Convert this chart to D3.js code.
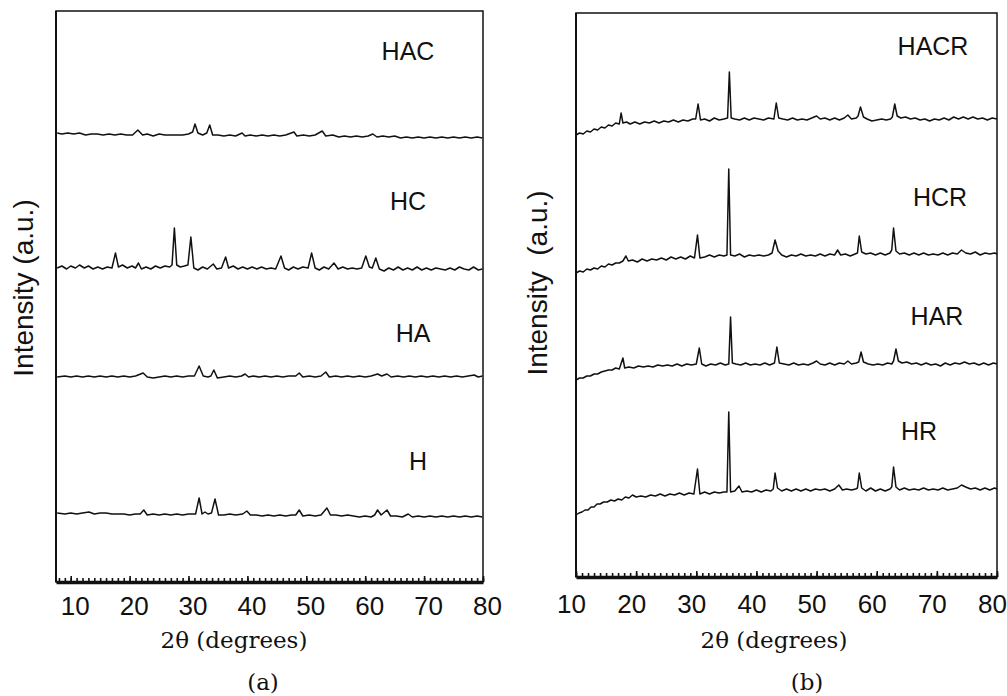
<!DOCTYPE html>
<html>
<head>
<meta charset="utf-8">
<script src="https://cdn.jsdelivr.net/npm/d3@7"></script>
<style>
  body { margin: 0; background: #fff; }
</style>
</head>
<body>
<svg id="chart" width="1007" height="696"></svg>
<script>
// 2θ tick labels, shared by both panels
const tickLabels = [10, 20, 30, 40, 50, 60, 70, 80];

// ---- panel (a): as prepared ----
const namesA = ["HAC", "HC", "HA", "H"];
const offsetsA = [445, 314, 205, 67];   // baseline level of each pattern (a.u.)

// [2θ, intensity above baseline]
const hac = [[7.7,4],[8.5,3],[9.5,4],[10.5,3],[11.5,4],[12.5,2],[13.5,3],[14.5,3],[15.5,2],[16.5,3],[17.5,2],[18.5,3],[19.5,2],[20.5,2],[21.4,7],[22.2,2],[23,3],[24,1],[25,3],[26,2],[27,2],[28,2],[29,2],[30,3],[30.7,5],[31.1,13],[31.6,4],[32.4,2],[33.1,4],[33.6,12],[34.1,2],[35,2],[36,1],[37,2],[38,1],[39.1,4],[39.6,1],[40.5,2],[41.5,1],[42.5,2],[43.5,1],[44.5,2],[45.5,1],[46.5,2],[47.9,5],[48.4,1],[49.5,2],[50.5,1],[51.5,2],[52.7,6],[53.3,1],[54.5,2],[55.5,0],[56.5,1],[57.5,0],[58.5,1],[59.5,0],[60.5,1],[61.3,3],[62,0],[63,1],[64,0],[65,1],[66,-1],[67,0],[68,-1],[69,0],[70,-1],[71,0],[72,-1],[73,0],[74,-1],[75,0],[76,-1],[77,0],[78,-1],[79,0],[79.9,-1]];

const hc = [[7.7,0],[8.5,2],[9.3,-1],[10,2],[10.8,0],[11.5,3],[12.3,0],[13,2],[13.8,-1],[14.6,1],[15.4,-1],[16.2,1],[17,0],[17.6,15],[18.1,1],[18.8,3],[19.6,0],[20.4,2],[21,0],[21.5,5],[22,-1],[22.8,1],[23.6,-1],[24.4,2],[25.2,0],[26,2],[26.8,1],[27.2,3],[27.6,40],[28,3],[28.6,1],[29.3,2],[29.9,3],[30.4,31],[30.9,0],[31.6,-2],[32.4,1],[33.2,-1],[34.2,4],[34.8,-1],[35.6,0],[36.3,11],[36.8,0],[37.6,2],[38.4,-1],[39.2,1],[40,-1],[40.8,1],[41.6,-1],[42.4,1],[43.2,-1],[44,0],[44.8,-1],[45.7,12],[46.3,0],[47,-2],[47.8,1],[48.6,-1],[49.4,1],[50.3,0],[50.9,15],[51.5,0],[52.2,-2],[53,1],[53.8,-1],[54.7,5],[55.4,-1],[56.2,1],[57,-1],[57.8,0],[58.6,-1],[59.4,0],[60.1,12],[60.7,1],[61.2,0],[61.8,10],[62.4,-1],[63.2,-3],[64,0],[64.8,-2],[65.6,1],[66.4,-2],[67.2,0],[68,-2],[68.8,1],[69.6,-2],[70.4,0],[71.2,-2],[72,0],[72.8,-1],[73.6,-2],[74.4,0],[75.2,-2],[76,1],[76.8,-1],[77.6,-2],[78.4,1],[79.2,-2],[79.9,-1]];

const ha = [[7.7,0],[9,1],[10,0],[11,1],[12,0],[13,1],[14,0],[15,1],[16,0],[17,1],[18,0],[19,1],[20,0],[21,1],[22.3,4],[23,0],[24,-1],[25,0],[26,1],[27,0],[28,1],[29,0],[30,1],[31,1],[31.8,11],[32.5,1],[33.3,0],[33.8,1],[34.3,7],[34.9,-1],[36,0],[37,1],[38,0],[39,1],[39.6,3],[40.2,0],[41,1],[42,0],[43,1],[44,0],[45,1],[46,0],[47,1],[48.2,1],[48.8,4],[49.4,0],[50.5,1],[51.5,0],[52.5,1],[53.3,5],[53.9,0],[55,1],[56,0],[57,1],[58,0],[59,1],[60,0],[61,1],[62.1,3],[62.8,1],[63.7,3],[64.4,0],[65.5,1],[66.5,0],[67.5,1],[68.5,0],[69.5,1],[70.5,0],[71.5,1],[72.5,0],[73.5,1],[74.5,0],[75.5,1],[76.5,0],[77.5,1],[78.5,2],[79.2,0],[79.9,1]];

const h = [[7.7,2],[9,1],[10,2],[11,1],[12,2],[13.1,3],[14,1],[15,2],[16,2],[17,1],[18,1],[19,1],[20,0],[21,1],[21.8,1],[22.4,5],[23,0],[24,1],[25,0],[26,1],[27,0],[28,1],[29,0],[30,1],[31.2,1],[31.8,17],[32.3,1],[32.8,3],[33.3,1],[33.9,2],[34.5,16],[35.1,0],[36,0],[37,1],[38,0],[39.2,1],[39.9,4],[40.5,0],[41.5,0],[42.5,-1],[43.5,0],[44.5,-1],[45.5,0],[46.5,-1],[47.5,0],[48.2,0],[48.8,5],[49.4,-1],[50.5,0],[51.5,-1],[52.5,0],[53.5,7],[54.1,0],[55,0],[56,-1],[57,0],[58,-1],[59,-2],[60,-1],[61,-2],[61.6,0],[62.1,5],[62.7,0],[63.7,5],[64.3,-1],[65.3,-1],[66.3,-2],[67.3,1],[68,-2],[69,-1],[70,-2],[71,-1],[72,-2],[73,-1],[74,-2],[75,-1],[76,-2],[77,-1],[78,-2],[79,-1],[79.9,-2]];

// ---- panel (b): after reduction ----
const namesB = ["HACR", "HCR", "HAR", "HR"];
const offsetsB = [458, 322, 213, 88];

const hacr = [[10,-16],[10.6,-14],[11.2,-15],[11.8,-12],[12.4,-13],[13,-10],[13.6,-11],[14.2,-8],[14.8,-9],[15.4,-6],[16,-7],[16.6,-4],[17.2,-5],[17.5,6],[17.8,-4],[18.4,-3],[19,-5],[19.8,-3],[20.6,-5],[21.4,-3],[22.2,-4],[23,-2],[23.8,-4],[24.6,-2],[25.4,-3],[26.2,-1],[27,-3],[27.8,-1],[28.6,-2],[29.4,0],[29.9,0],[30.3,15],[30.7,-1],[31.4,0],[32.2,-2],[33,1],[33.8,-1],[34.6,0],[35.2,1],[35.5,47],[35.8,1],[36.4,0],[37.2,-1],[38,1],[38.8,-1],[39.6,1],[40.4,0],[41.2,-1],[42,1],[42.9,0],[43.3,16],[43.7,1],[44.4,0],[45.2,-1],[46,1],[46.8,-1],[47.6,0],[48.4,-1],[49.2,1],[50,3],[50.6,0],[51.4,1],[52.2,-1],[53,1],[53.8,-1],[54.6,1],[55.2,4],[55.8,0],[56.6,1],[56.9,3],[57.3,12],[57.8,2],[58.4,0],[59.2,-2],[60,-1],[60.8,0],[61.6,-1],[62.3,0],[62.6,2],[63,15],[63.4,3],[64,1],[64.8,2],[65.6,0],[66.4,1],[67.2,-1],[68,0],[68.8,-2],[69.6,0],[70.4,-1],[71.2,1],[72,-1],[72.8,2],[73.6,0],[74.4,2],[75.2,0],[76,2],[76.8,0],[77.6,1],[78.4,-1],[79.2,1],[80,0]];

const hcr = [[10,-18],[10.6,-16],[11.2,-17],[11.8,-14],[12.4,-15],[13,-13],[13.6,-14],[14.2,-11],[14.8,-12],[15.4,-9],[16,-10],[16.6,-8],[17.2,-8],[17.8,-6],[18.3,-1],[18.7,-6],[19.4,-5],[20.2,-7],[21,-4],[21.8,-6],[22.6,-4],[23.4,-5],[24.2,-3],[25,-5],[25.8,-2],[26.6,-4],[27.4,-2],[28.2,-4],[29,-1],[29.7,-3],[30.2,20],[30.6,-3],[31.4,-2],[32.2,0],[33,-2],[33.8,0],[34.6,-1],[35.1,0],[35.4,86],[35.7,0],[36.4,-1],[37.2,1],[38,-2],[38.8,0],[39.6,-1],[40.4,0],[41.2,-1],[42,0],[42.6,2],[43.1,15],[43.6,4],[44.2,0],[45,-2],[45.8,0],[46.6,-1],[47.4,1],[48.2,-1],[49,0],[49.8,-1],[50.6,1],[51.4,-1],[52.2,1],[53,0],[53.5,5],[54,0],[54.8,1],[55.6,-1],[56.4,1],[56.8,2],[57.1,19],[57.5,3],[58.2,1],[59,2],[59.8,0],[60.6,2],[61.4,0],[62.2,2],[62.5,5],[62.8,27],[63.2,4],[63.8,1],[64.6,2],[65.4,0],[66.2,2],[67,0],[67.8,2],[68.6,0],[69.4,1],[70.2,0],[71,2],[71.8,0],[72.6,2],[73.4,1],[74.1,5],[74.8,2],[75.6,1],[76.4,3],[77.2,0],[78,2],[78.8,1],[79.6,2],[80,1]];

const har = [[10,-16],[10.6,-14],[11.2,-14],[11.8,-12],[12.4,-12],[13,-10],[13.6,-10],[14.2,-8],[14.8,-7],[15.4,-6],[16,-6],[16.6,-4],[17.2,-5],[17.8,6],[18.1,-4],[18.8,-3],[19.6,-4],[20.4,-2],[21.2,-3],[22,-2],[22.8,-3],[23.6,-1],[24.4,-2],[25.2,-1],[26,-2],[26.8,0],[27.6,-2],[28.4,0],[29.2,-1],[30,0],[30.5,16],[30.9,0],[31.6,-2],[32.4,0],[33.2,-1],[34,1],[34.8,-1],[35.4,0],[35.7,47],[36,1],[36.6,0],[37.4,-1],[38.2,1],[39,-1],[39.8,0],[40.6,-1],[41.4,1],[42.2,-1],[43,1],[43.4,17],[43.8,1],[44.6,0],[45.4,-1],[46.2,1],[47,-1],[47.8,0],[48.6,-1],[49.4,1],[50,3],[50.6,0],[51.4,-1],[52.2,1],[53,-1],[53.8,1],[54.6,0],[55.2,3],[55.8,0],[56.6,1],[57,2],[57.4,12],[57.8,2],[58.6,0],[59.4,-1],[60.2,0],[61,-1],[61.8,1],[62.5,0],[62.8,3],[63.2,15],[63.6,3],[64.2,1],[65,2],[65.8,0],[66.6,1],[67.4,-1],[68.2,1],[69,-1],[69.8,0],[70.6,-2],[71.4,1],[72.2,-1],[73,1],[73.8,0],[74.6,2],[75.4,0],[76.2,1],[77,-1],[77.8,1],[78.6,-1],[79.4,1],[80,0]];

const hr = [[10,-26],[10.5,-24],[11,-23],[11.5,-21],[12,-21],[12.5,-18],[13,-18],[13.5,-15],[14,-15],[14.6,-13],[15.2,-13],[15.8,-11],[16.4,-12],[17,-10],[17.6,-11],[18.2,-8],[18.8,-9],[19.4,-6],[20,-8],[20.8,-7],[21.6,-8],[22.4,-6],[23.2,-7],[24,-5],[24.8,-7],[25.6,-5],[26.4,-6],[27.2,-4],[28,-6],[28.8,-4],[29.6,-5],[30.2,20],[30.6,-5],[31.4,-3],[32.2,-5],[33,-3],[33.8,-4],[34.6,-3],[35.1,-3],[35.4,77],[35.7,-3],[36.4,-2],[37.1,3],[37.6,-3],[38.4,-2],[39.2,-3],[40,-1],[40.8,-3],[41.6,-1],[42.4,-2],[42.8,0],[43.1,16],[43.5,1],[44.2,-2],[45,0],[45.8,-2],[46.6,0],[47.4,-2],[48.2,0],[49,-2],[49.8,0],[50.6,-1],[51.4,0],[52.2,-2],[53,0],[53.7,4],[54.3,-1],[55,0],[55.8,-1],[56.5,0],[56.8,1],[57.1,16],[57.5,1],[58.2,-2],[59,1],[59.8,-2],[60.6,0],[61.4,-2],[62.2,0],[62.5,2],[62.8,22],[63.2,2],[63.8,-1],[64.6,1],[65.4,-1],[66.2,0],[67,-1],[67.8,1],[68.6,-1],[69.4,0],[70.2,-1],[71,1],[71.8,-1],[72.6,0],[73.4,1],[74.1,4],[74.8,2],[75.6,0],[76.4,1],[77.2,-1],[78,1],[78.8,-1],[79.6,1],[80,0]];

// ---- layout ----
const svg = d3.select("#chart");
const sans = "'Liberation Sans', Arial, sans-serif";
const serif = "'DejaVu Serif', serif";

const panels = [
  { left: 56, right: 483, top: 11, bottom: 582, xDom: [7.5, 80], yMax: 571,
    series: [hac, hc, ha, h], names: namesA, offsets: offsetsA,
    labelPos: [[408, 60], [408, 210], [413, 342], [418, 470]],
    tickPad: 15, tickDx: 4, titleX: 234, titleY: 648, capX: 263,
    yTitle: "Intensity (a.u.)", yTitleX: 33, yTitleY: 288 },
  { left: 576, right: 997, top: 13, bottom: 577, xDom: [10, 80], yMax: 564,
    series: [hacr, hcr, har, hr], names: namesB, offsets: offsetsB,
    labelPos: [[933, 55], [940, 206], [937, 325], [919, 440]],
    tickPad: 18, tickDx: -5, titleX: 774, titleY: 648, capX: 807,
    yTitle: "Intensity\u00a0\u00a0(a.u.)", yTitleX: 547, yTitleY: 283 }
];
const captions = ["(a)", "(b)"];

panels.forEach(function (p, pi) {
  let x = d3.scaleLinear().domain(p.xDom).range([p.left, p.right]);
  let y = d3.scaleLinear().domain([0, p.yMax]).range([p.bottom, p.top]);

  // frame
  svg.append("rect")
    .attr("x", p.left).attr("y", p.top)
    .attr("width", p.right - p.left).attr("height", p.bottom - p.top)
    .style("fill", "none").style("stroke", "#111").style("stroke-width", 1.5);
  svg.append("line")
    .attr("x1", p.left).attr("x2", p.left).attr("y1", p.top).attr("y2", p.bottom)
    .style("stroke", "#111").style("stroke-width", 2);

  // minor ticks every degree
  let minor = d3.axisBottom(x)
    .tickValues(d3.range(Math.ceil(p.xDom[0]), 81))
    .tickSize(-4).tickSizeOuter(0).tickFormat("");
  svg.append("g")
    .attr("transform", "translate(0," + p.bottom + ")")
    .call(minor)
    .call(g => g.select(".domain").remove())
    .selectAll("line").style("stroke", "#111").style("stroke-width", 1.6);

  // major ticks + labels
  let major = d3.axisBottom(x)
    .tickValues(tickLabels)
    .tickSize(-6).tickSizeOuter(0).tickPadding(p.tickPad);
  let ax = svg.append("g")
    .attr("transform", "translate(0," + p.bottom + ")")
    .call(major);
  ax.select(".domain").style("stroke", "#111").style("stroke-width", 3.5);
  ax.selectAll(".tick line").style("stroke", "#111").style("stroke-width", 1.6);
  ax.selectAll(".tick text")
    .attr("dx", p.tickDx)
    .style("font-family", sans).style("font-size", "26px").style("fill", "#111");

  // patterns
  p.series.forEach(function (s, i) {
    let off = p.offsets[i];
    let line = d3.line()
      .x(d => x(d[0]))
      .y(d => y(d[1] + off));
    svg.append("path")
      .attr("d", line(s))
      .style("fill", "none")
      .style("stroke", "#111")
      .style("stroke-width", 1.5)
      .style("stroke-linejoin", "round");

    svg.append("text")
      .attr("x", p.labelPos[i][0]).attr("y", p.labelPos[i][1])
      .attr("text-anchor", "middle")
      .style("font-family", sans).style("font-size", "25px").style("fill", "#111")
      .text(p.names[i]);
  });

  // axis titles
  svg.append("text")
    .attr("transform", "translate(" + p.yTitleX + "," + p.yTitleY + ") rotate(-90)")
    .attr("text-anchor", "middle")
    .style("font-family", sans).style("font-size", "28px").style("fill", "#111")
    .text(p.yTitle);

  svg.append("text")
    .attr("x", p.titleX).attr("y", p.titleY)
    .attr("text-anchor", "middle")
    .style("font-family", serif).style("font-size", "23px").style("fill", "#111")
    .text("2\u03b8 (degrees)");

  svg.append("text")
    .attr("x", p.capX).attr("y", 690)
    .attr("text-anchor", "middle")
    .style("font-family", serif).style("font-size", "23px").style("fill", "#111")
    .text(captions[pi]);
});
</script>
</body>
</html>
